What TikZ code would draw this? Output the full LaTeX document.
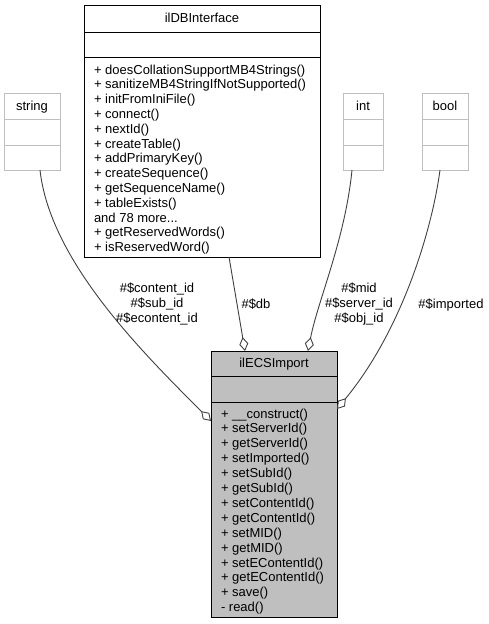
\documentclass[tikz,border=0pt]{standalone}
\usepackage{fontspec}
\setmainfont{Liberation Sans}
\usetikzlibrary{arrows.meta,calc}
\definecolor{boxgray}{RGB}{191,191,191}
\definecolor{lightborder}{RGB}{191,191,191}
\definecolor{edgegray}{RGB}{64,64,64}
\newcommand\mytdots{...}
\begin{document}
\begin{tikzpicture}[x=1pt,y=-1pt,
  font=\fontsize{13}{15}\selectfont,
  every node/.style={inner sep=0pt, outer sep=0pt},
  typebox/.style={draw=lightborder, line width=1pt, anchor=north west},
  classbox/.style={draw=black, line width=1pt, anchor=north west},
  member/.style={anchor=base west},
  ttl/.style={anchor=base},
  lbl/.style={align=center},
  edge/.style={draw=edgegray, line width=0.9pt,
    -{Diamond[fill=white, length=14pt, width=9pt]}}]
\useasboundingbox (0,0) rectangle (489,624);

% string
\node[typebox, minimum width=56pt, minimum height=77pt] (string) at (4,93) {};
\draw[lightborder, line width=1pt] ($(string.north west)+(0,26)$) -- ($(string.north east)+(0,26)$);
\draw[lightborder, line width=1pt] ($(string.north west)+(0,52)$) -- ($(string.north east)+(0,52)$);
\node[ttl] (string-t) at (32,110) {string};

% int
\node[typebox, minimum width=40pt, minimum height=77pt] (int) at (343,93) {};
\draw[lightborder, line width=1pt] ($(int.north west)+(0,26)$) -- ($(int.north east)+(0,26)$);
\draw[lightborder, line width=1pt] ($(int.north west)+(0,52)$) -- ($(int.north east)+(0,52)$);
\node[ttl] (int-t) at (363,110) {int};

% bool
\node[typebox, minimum width=46pt, minimum height=77pt] (bool) at (422,93) {};
\draw[lightborder, line width=1pt] ($(bool.north west)+(0,26)$) -- ($(bool.north east)+(0,26)$);
\draw[lightborder, line width=1pt] ($(bool.north west)+(0,52)$) -- ($(bool.north east)+(0,52)$);
\node[ttl] (bool-t) at (445,110) {bool};

% ilDBInterface
\node[classbox, minimum width=236pt, minimum height=252pt] (db) at (84,5) {};
\draw[line width=1pt] ($(db.north west)+(0,27)$) -- ($(db.north east)+(0,27)$);
\draw[line width=1pt] ($(db.north west)+(0,52)$) -- ($(db.north east)+(0,52)$);
\node[ttl] (db-t) at (202,22) {ilDBInterface};
\foreach \t [count=\i from 0] in {%
  {+ doesCollationSupportMB4Strings()},
  {+ sanitizeMB4StringIfNotSupported()},
  {+ initFromIniFile()},
  {+ connect()},
  {+ nextId()},
  {+ createTable()},
  {+ addPrimaryKey()},
  {+ createSequence()},
  {+ getSequenceName()},
  {+ tableExists()},
  {and 78 more\mytdots},
  {+ getReservedWords()},
  {+ isReservedWord()}}
  \node[member] (db-m\i) at (94,{74+14.8*\i}) {\t};

% ilECSImport
\node[classbox, fill=boxgray, minimum width=126pt, minimum height=266pt] (ecs) at (211,351) {};
\draw[line width=1pt] ($(ecs.north west)+(0,25)$) -- ($(ecs.north east)+(0,25)$);
\draw[line width=1pt] ($(ecs.north west)+(0,51)$) -- ($(ecs.north east)+(0,51)$);
\node[ttl] (ecs-t) at (274,367) {ilECSImport};
\foreach \t [count=\i from 0] in {%
  {+ \_\_construct()},
  {+ setServerId()},
  {+ getServerId()},
  {+ setImported()},
  {+ setSubId()},
  {+ getSubId()},
  {+ setContentId()},
  {+ getContentId()},
  {+ setMID()},
  {+ getMID()},
  {+ setEContentId()},
  {+ getEContentId()},
  {+ save()},
  {- read()}}
  \node[member] (ecs-m\i) at (221,{418+14.9*\i}) {\t};

% connectors
\draw[edge] ([xshift=8pt]string.south) .. controls (50,260) and (140,350) .. ([yshift=63pt]ecs.west);
\draw[edge] ([xshift=27pt]db.south) -- ([xshift=-29pt]ecs.north);
\draw[edge] ([xshift=-11pt]int.south) .. controls (345,240) and (318,300) .. ([xshift=34pt]ecs.north);
\draw[edge] ([xshift=-5pt]bool.south) .. controls (432,230) and (402,330) .. ([yshift=75pt]ecs.east);

% labels
\node[lbl] (l-string) at (157,304) {\#\$content\_id\\\#\$sub\_id\\\#\$econtent\_id};
\node[ttl] (l-db) at (256,308) {\#\$db};
\node[lbl] (l-int) at (359,304) {\#\$mid\\\#\$server\_id\\\#\$obj\_id};
\node[ttl] (l-bool) at (451,308) {\#\$imported};
\end{tikzpicture}
\end{document}
